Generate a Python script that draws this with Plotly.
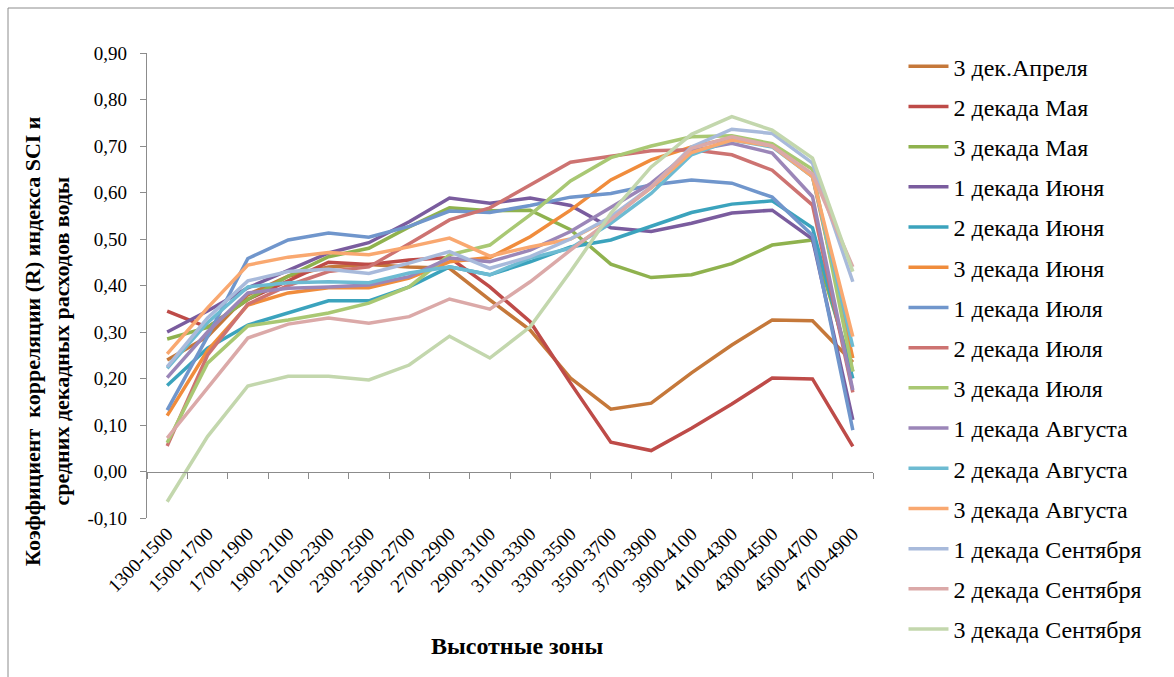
import plotly.graph_objects as go

# Altitude zones (m)
zones = ["1300-1500", "1500-1700", "1700-1900", "1900-2100", "2100-2300", "2300-2500",
         "2500-2700", "2700-2900", "2900-3100", "3100-3300", "3300-3500", "3500-3700",
         "3700-3900", "3900-4100", "4100-4300", "4300-4500", "4500-4700", "4700-4900"]

y_ticks = [-0.1, 0.0, 0.1, 0.2, 0.3, 0.4, 0.5, 0.6, 0.7, 0.8, 0.9]
y_tick_labels = ["-0,10", "0,00", "0,10", "0,20", "0,30", "0,40", "0,50", "0,60",
                 "0,70", "0,80", "0,90"]

apr_3 = [0.24, 0.29, 0.38, 0.42, 0.44, 0.445, 0.44, 0.437, 0.369, 0.304, 0.201, 0.134,
         0.147, 0.212, 0.272, 0.326, 0.324, 0.235]
may_2 = [0.345, 0.31, 0.37, 0.41, 0.45, 0.445, 0.455, 0.46, 0.397, 0.322, 0.19, 0.063,
         0.045, 0.093, 0.145, 0.201, 0.199, 0.054]
may_3 = [0.285, 0.31, 0.37, 0.42, 0.462, 0.48, 0.526, 0.567, 0.561, 0.562, 0.52, 0.446,
         0.417, 0.423, 0.447, 0.487, 0.498, 0.215]
jun_1 = [0.30, 0.345, 0.395, 0.433, 0.47, 0.492, 0.537, 0.588, 0.577, 0.588, 0.572, 0.524,
         0.516, 0.534, 0.556, 0.562, 0.50, 0.111]
jun_2 = [0.185, 0.265, 0.315, 0.341, 0.367, 0.367, 0.397, 0.44, 0.423, 0.451, 0.483, 0.498,
         0.528, 0.557, 0.575, 0.582, 0.524, 0.20]
jun_3 = [0.12, 0.26, 0.358, 0.384, 0.395, 0.395, 0.416, 0.451, 0.46, 0.505, 0.562, 0.627,
         0.67, 0.698, 0.717, 0.702, 0.634, 0.244]
jul_1 = [0.132, 0.29, 0.458, 0.498, 0.513, 0.504, 0.527, 0.56, 0.557, 0.572, 0.59, 0.598,
         0.616, 0.627, 0.62, 0.59, 0.508, 0.089]
jul_2 = [0.055, 0.25, 0.36, 0.40, 0.43, 0.44, 0.49, 0.541, 0.567, 0.616, 0.665, 0.678,
         0.69, 0.692, 0.681, 0.648, 0.573, 0.17]
jul_3 = [0.062, 0.233, 0.313, 0.326, 0.341, 0.362, 0.397, 0.466, 0.487, 0.552, 0.625, 0.675,
         0.70, 0.72, 0.722, 0.705, 0.65, 0.215]
aug_1 = [0.202, 0.30, 0.384, 0.394, 0.397, 0.401, 0.419, 0.459, 0.451, 0.476, 0.516, 0.569,
         0.62, 0.69, 0.706, 0.685, 0.591, 0.175]
aug_2 = [0.222, 0.32, 0.397, 0.406, 0.408, 0.406, 0.427, 0.44, 0.423, 0.459, 0.48, 0.534,
         0.598, 0.681, 0.713, 0.698, 0.634, 0.268]
aug_3 = [0.253, 0.352, 0.444, 0.461, 0.471, 0.466, 0.483, 0.502, 0.463, 0.483, 0.50, 0.545,
         0.61, 0.686, 0.713, 0.70, 0.634, 0.29]
sep_1 = [0.225, 0.33, 0.41, 0.43, 0.435, 0.426, 0.448, 0.473, 0.437, 0.462, 0.50, 0.548,
         0.612, 0.698, 0.736, 0.727, 0.663, 0.408]
sep_2 = [0.072, 0.18, 0.287, 0.317, 0.33, 0.319, 0.333, 0.371, 0.349, 0.408, 0.476, 0.541,
         0.612, 0.695, 0.72, 0.70, 0.64, 0.44]
sep_3 = [-0.065, 0.075, 0.184, 0.205, 0.205, 0.197, 0.229, 0.291, 0.244, 0.311, 0.43, 0.555,
         0.655, 0.725, 0.763, 0.734, 0.674, 0.43]

series_names = ["3 дек.Апреля", "2 декада Мая", "3 декада Мая", "1 декада Июня",
                "2 декада Июня", "3 декада Июня", "1 декада Июля", "2 декада Июля",
                "3 декада Июля", "1 декада Августа", "2 декада Августа", "3 декада Августа",
                "1 декада Сентября", "2 декада Сентября", "3 декада Сентября"]
series_values = [apr_3, may_2, may_3, jun_1, jun_2, jun_3, jul_1, jul_2, jul_3,
                 aug_1, aug_2, aug_3, sep_1, sep_2, sep_3]
series_colors = ["#C5783A", "#BE4B48", "#8FB24E", "#7A5C9E", "#3BA3BD", "#F08C3C",
                 "#7096CC", "#CD7371", "#A9C873", "#9B86B8", "#6DBBD2", "#F9A870",
                 "#A8BADB", "#DBA9A8", "#C3D7AD"]

FONT = "Liberation Serif, Times New Roman, serif"

fig = go.Figure()
for i, (name, vals, col) in enumerate(zip(series_names, series_values, series_colors)):
    fig.add_trace(go.Scatter(
        x=zones, y=vals, name=name, mode="lines",
        line=dict(color=col, width=3.5),
        legendgroup=f"g{i}",
    ))

# helper trace carrying the axis line drawn through the zero level
fig.add_trace(go.Scatter(x=zones, y=[None] * len(zones), xaxis="x2", showlegend=False,
                         hoverinfo="skip", mode="lines"))

fig.update_layout(
    width=1174, height=677,
    margin=dict(l=147, r=301, t=53, b=159),
    paper_bgcolor="white", plot_bgcolor="white",
    font=dict(family=FONT, size=19, color="black"),
    showlegend=True,
    legend=dict(x=1.042, y=1.019, xanchor="left", yanchor="top",
                font=dict(family=FONT, size=24, color="black"),
                tracegroupgap=6, itemwidth=40, maxheight=900,
                bgcolor="rgba(0,0,0,0)"),
    xaxis=dict(type="category", categoryorder="array", categoryarray=zones,
               range=[-0.5, 17.5], showline=False, ticks="", showgrid=False,
               tickangle=-45, tickfont=dict(family=FONT, size=19, color="black")),
    xaxis2=dict(type="category", categoryorder="array", categoryarray=zones,
                range=[-0.5, 17.5], overlaying="x", anchor="free", position=0.1,
                showline=True, linecolor="#8c8c8c", linewidth=1.3,
                ticks="outside", ticklen=6, tickcolor="#8c8c8c", tickson="boundaries",
                showticklabels=False, showgrid=False),
    yaxis=dict(range=[-0.1, 0.9], tickvals=y_ticks, ticktext=y_tick_labels,
               showline=True, linecolor="#8c8c8c", linewidth=1.3,
               ticks="outside", ticklen=6, tickcolor="#8c8c8c", showgrid=False,
               ticklabelstandoff=9,
               zeroline=False, tickfont=dict(family=FONT, size=19, color="black")),
)

fig.add_annotation(
    text="<b>Коэффициент  корреляции (R) индекса SCI и<br>средних декадных расходов воды</b>",
    xref="paper", yref="paper", x=-0.097, y=0.38, xanchor="right", yanchor="middle",
    textangle=-90, showarrow=False, align="center",
    font=dict(family=FONT, size=22, color="black"),
)
fig.add_annotation(
    text="<b>Высотные зоны</b>", xref="paper", yref="paper", x=0.51, y=-0.275,
    xanchor="center", yanchor="middle", showarrow=False,
    font=dict(family=FONT, size=24, color="black"),
)

# chart frame
fig.add_shape(type="rect", xref="paper", yref="paper",
              x0=(8 - 147) / 726, x1=(1190 - 147) / 726,
              y0=(518 - 690) / 465, y1=(518 - 8) / 465,
              line=dict(color="#8c8c8c", width=1), layer="below")

fig.write_html("out.html")
